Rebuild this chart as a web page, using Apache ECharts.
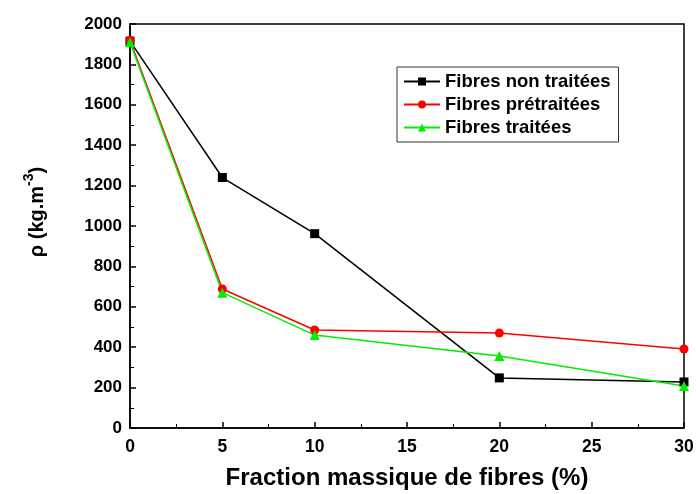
<!DOCTYPE html>
<html><head><meta charset="utf-8">
<script src="https://cdn.jsdelivr.net/npm/echarts@6/dist/echarts.min.js"></script>
<style>html,body{margin:0;padding:0;background:#fff}#c{width:696px;height:494px}</style>
</head><body><div id="c"></div>
<script>
const xValues = [0, 5, 10, 20, 30];
const nonTraitees = [1915, 1240, 962, 248, 228];
const pretraitees = [1920, 688, 485, 470, 391];
const traitees = [1910, 670, 460, 356, 208];
const seriesNames = ['Fibres non traitées', 'Fibres prétraitées', 'Fibres traitées'];

const font = 'Arial, "Liberation Sans", sans-serif';
const chart = echarts.init(document.getElementById('c'));
function mk(name, vals, color, symbol, size) {
  return {
    name: name, type: 'line', data: xValues.map((x, i) => [x, vals[i]]),
    symbol: symbol, symbolSize: size, showSymbol: true,
    lineStyle: { color: color, width: 1.5 }, itemStyle: { color: color },
    z: 3
  };
}
chart.setOption({
  animation: false,
  grid: { left: 130, right: 12, top: 24, bottom: 66, show: true, borderColor: '#000', borderWidth: 1.5, backgroundColor: 'transparent', containLabel: false, outerBoundsMode: 'none' },
  legend: {
    orient: 'vertical', left: 397, top: 67, data: seriesNames,
    borderColor: '#333', borderWidth: 1, padding: [5, 8, 5, 6], itemGap: 4,
    itemWidth: 36, itemHeight: 10,
    textStyle: { fontFamily: font, fontWeight: 'bold', fontSize: 18.5, color: '#000' }
  },
  xAxis: {
    type: 'value', min: 0, max: 30, interval: 5,
    name: 'Fraction massique de fibres (%)', nameLocation: 'middle', nameGap: 38,
    nameTextStyle: { fontFamily: font, fontWeight: 'bold', fontSize: 24, color: '#000' },
    axisLine: { lineStyle: { color: '#000', width: 1.5 } },
    axisTick: { inside: true, length: 6, lineStyle: { color: '#000', width: 1.5 } },
    minorTick: { show: true, splitNumber: 2, length: 4, lineStyle: { color: '#000', width: 1 } },
    axisLabel: { fontFamily: font, fontWeight: 'bold', fontSize: 17.5, color: '#000', margin: 10 },
    splitLine: { show: false }
  },
  yAxis: {
    type: 'value', min: 0, max: 2000, interval: 200,
    name: '{a|ρ (kg.m}{s|-3}{a|)}', nameLocation: 'middle', nameGap: 78, nameRotate: 90,
    nameTextStyle: { padding: [0, 0, 0, 28], rich: {
      a: { fontFamily: font, fontWeight: 'bold', fontSize: 20, color: '#000' },
      s: { fontFamily: font, fontWeight: 'bold', fontSize: 14, color: '#000', verticalAlign: 'top', padding: [0, 0, 16, 0] }
    } },
    axisLine: { lineStyle: { color: '#000', width: 1.5 } },
    axisTick: { inside: true, length: 6, lineStyle: { color: '#000', width: 1.5 } },
    minorTick: { show: true, splitNumber: 2, length: 4, lineStyle: { color: '#000', width: 1 } },
    axisLabel: { fontFamily: font, fontWeight: 'bold', fontSize: 17, color: '#000', margin: 8, formatter: v => String(v) },
    splitLine: { show: false }
  },
  series: [
    mk(seriesNames[0], nonTraitees, '#000000', 'rect', 9),
    mk(seriesNames[1], pretraitees, '#ff0000', 'circle', 9),
    mk(seriesNames[2], traitees, '#00ee00', 'triangle', 10)
  ]
});
</script></body></html>
